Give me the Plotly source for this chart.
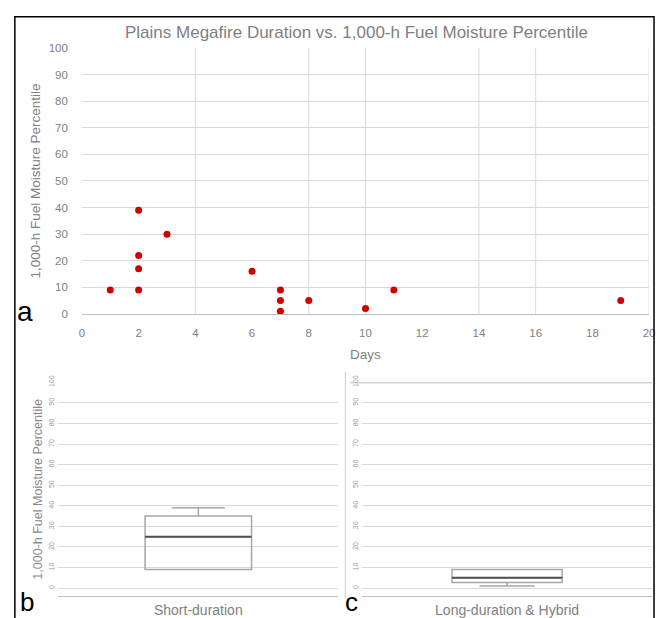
import plotly.graph_objects as go

# ---------------- data ----------------
days = [1, 2, 2, 2, 2, 3, 6, 7, 7, 7, 8, 10, 11, 19]
fuel_moisture_pct = [9, 39, 22, 17, 9, 30, 16, 9, 5, 1, 5, 2, 9, 5]

x_tick_vals = list(range(0, 21, 2))
y_tick_vals = list(range(0, 101, 10))
x_grid_shown = [4, 8, 10, 14, 16, 20]

box_categories = ["Short-duration", "Long-duration & Hybrid"]
box_lower = [9, 1]
box_q1 = [9, 2.75]
box_median = [25, 5]
box_q3 = [35, 9]
box_upper = [39, 9]

title_text = "Plains Megafire Duration vs. 1,000-h Fuel Moisture Percentile"
y_title_text = "1,000-h Fuel Moisture Percentile"
x_title_text = "Days"

# ---------------- layout helpers ----------------
W, H = 662, 618
def fx(p):
    return p / W
def fy(p):
    return 1 - p / H

FONT = "Liberation Sans"
GRAY_TXT = "#808080"
GRID = "#d9d9d9"
AXLINE = "#bfbfbf"

fig = go.Figure()

# scatter (panel a)
fig.add_trace(go.Scatter(
    x=days, y=fuel_moisture_pct, mode="markers",
    marker=dict(color="#d00000", size=7, line=dict(width=0)),
    xaxis="x", yaxis="y", showlegend=False, hoverinfo="x+y"))

# box plots (panels b, c)
axes_pairs = [("x2", "y2"), ("x3", "y3")]
for i, (xa, ya) in enumerate(axes_pairs):
    fig.add_trace(go.Box(
        x=[box_categories[i]], q1=[box_q1[i]], median=[box_median[i]], q3=[box_q3[i]],
        lowerfence=[box_lower[i]], upperfence=[box_upper[i]],
        width=0.38, whiskerwidth=0.5, fillcolor="rgba(255,255,255,0)",
        line=dict(color="#a6a6a6", width=1.5), boxpoints=False,
        xaxis=xa, yaxis=ya, showlegend=False))
    # darker median line
    fig.add_trace(go.Box(
        x=[box_categories[i]], q1=[box_median[i]], median=[box_median[i]], q3=[box_median[i]],
        lowerfence=[box_median[i]], upperfence=[box_median[i]],
        width=0.38, whiskerwidth=0, fillcolor="rgba(255,255,255,0)",
        line=dict(color="#505050", width=2), boxpoints=False,
        xaxis=xa, yaxis=ya, showlegend=False))

tickfont = dict(family=FONT, size=11.5, color=GRAY_TXT)
small_tick = dict(family=FONT, size=7, color="#9a9a9a")
cat_font = dict(family=FONT, size=14, color=GRAY_TXT)

fig.update_layout(
    width=W, height=H,
    margin=dict(l=0, r=0, t=0, b=0),
    paper_bgcolor="white", plot_bgcolor="white",
    font=dict(family=FONT, color=GRAY_TXT),
    boxmode="overlay",
    # panel a
    xaxis=dict(domain=[fx(80), fx(655)], range=[0, 20], tickvals=x_tick_vals,
               showgrid=False, zeroline=False, showline=True, linecolor=AXLINE, linewidth=1,
               ticks="", tickfont=tickfont, ticklabelstandoff=8,
               title=dict(text=x_title_text, font=dict(family=FONT, size=13.5, color=GRAY_TXT), standoff=11),
               anchor="y"),
    yaxis=dict(domain=[fy(314), fy(42)], range=[0, 100], tickvals=y_tick_vals,
               showgrid=True, gridcolor=GRID, zeroline=False, showline=False,
               ticks="", tickfont=tickfont, ticklabelstandoff=13,
               title=dict(text=y_title_text, font=dict(family=FONT, size=13.5, color=GRAY_TXT), standoff=4),
               anchor="x"),
    # panel b
    xaxis2=dict(domain=[fx(56), fx(340)], range=[-0.5, 0.5], type="category",
                showgrid=False, zeroline=False, showline=True, linecolor=AXLINE,
                ticks="", tickfont=cat_font,
                ticklabelstandoff=1, anchor="y2"),
    yaxis2=dict(domain=[fy(603), fy(384)], range=[-4, 100], tickvals=y_tick_vals,
                showgrid=True, gridcolor=GRID, zeroline=False, showline=False,
                ticks="", tickfont=small_tick, tickangle=-90, ticklabelstandoff=2,
                title=dict(text=y_title_text, font=dict(family=FONT, size=12.5, color="#8a8a8a"), standoff=2),
                anchor="x2"),
    # panel c
    xaxis3=dict(domain=[fx(364), fx(658)], range=[-0.5, 0.5], type="category",
                showgrid=False, zeroline=False, showline=True, linecolor=AXLINE,
                ticks="", tickfont=cat_font,
                ticklabelstandoff=1, anchor="y3"),
    yaxis3=dict(domain=[fy(603), fy(384)], range=[-4, 100], tickvals=y_tick_vals,
                showgrid=True, gridcolor=GRID, zeroline=False, showline=False,
                ticks="", tickfont=small_tick, tickangle=-90, ticklabelstandoff=2,
                anchor="x3"),
)

shapes = []
for xv in x_grid_shown:
    shapes.append(dict(type="line", xref="x", yref="y domain", x0=xv, x1=xv, y0=0, y1=1,
                       line=dict(color=GRID, width=1), layer="below"))
shapes.append(dict(type="line", xref="paper", yref="paper", x0=fx(347), x1=fx(347),
                   y0=fy(604), y1=fy(373), line=dict(color="#cfcfcf", width=1)))
shapes.append(dict(type="line", xref="paper", yref="paper", x0=fx(352), x1=fx(658),
                   y0=fy(384.5), y1=fy(384.5), line=dict(color="#bdbdbd", width=1)))
shapes.append(dict(type="rect", xref="paper", yref="paper", x0=fx(12), x1=fx(660),
                   y0=fy(640), y1=fy(10), line=dict(color="black", width=1.5),
                   fillcolor="rgba(0,0,0,0)"))
fig.update_layout(shapes=shapes)

annotations = [
    dict(text=title_text, x=fx(358), y=fy(26), xref="paper", yref="paper",
         showarrow=False, font=dict(family=FONT, size=17, color=GRAY_TXT),
         xanchor="center", yanchor="middle"),
    dict(text="a", x=fx(22), y=fy(312), xref="paper", yref="paper", showarrow=False,
         font=dict(family=FONT, size=28, color="black"), xanchor="center", yanchor="middle"),
    dict(text="b", x=fx(24), y=fy(609), xref="paper", yref="paper", showarrow=False,
         font=dict(family=FONT, size=26, color="black"), xanchor="center", yanchor="middle"),
    dict(text="c", x=fx(353), y=fy(609), xref="paper", yref="paper", showarrow=False,
         font=dict(family=FONT, size=26, color="black"), xanchor="center", yanchor="middle"),
]
fig.update_layout(annotations=annotations)

post = (
    "var h=document.documentElement,b=document.body;"
    "h.style.margin='0';h.style.padding='0';h.style.overflow='hidden';"
    "b.style.margin='0';b.style.padding='0';b.style.overflow='hidden';"
)
fig.write_html("out.html", config={"displayModeBar": False}, post_script=post)
